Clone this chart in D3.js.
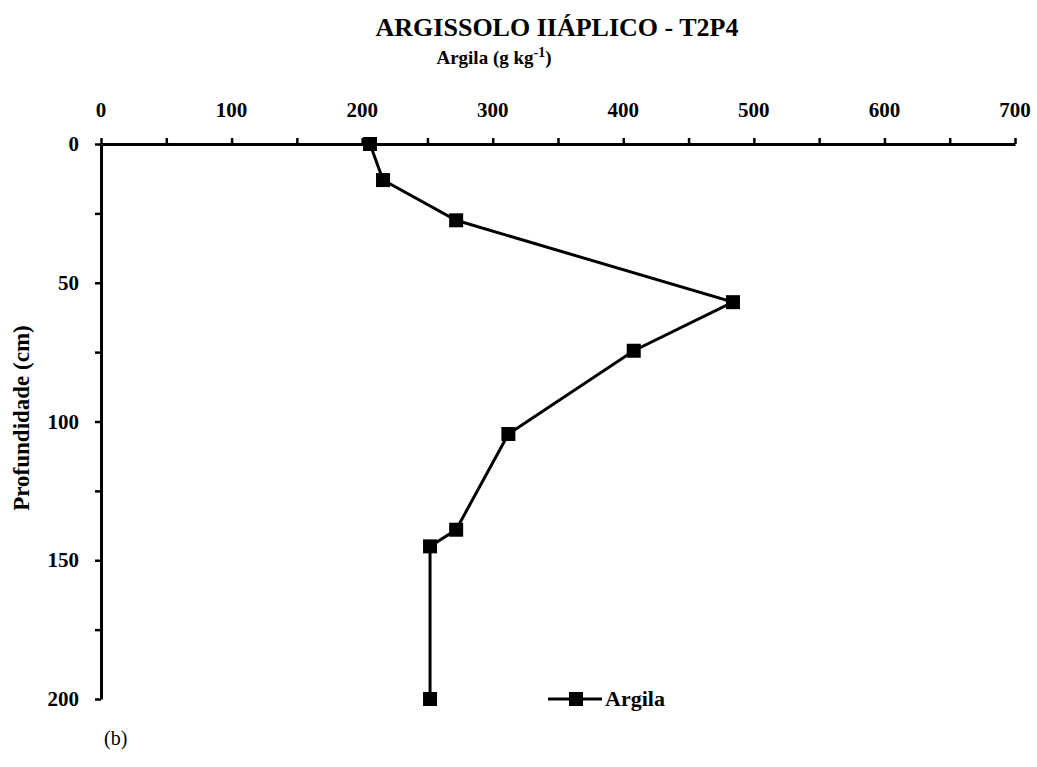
<!DOCTYPE html>
<html><head><meta charset="utf-8">
<script src="https://cdn.jsdelivr.net/npm/d3@7"></script>
<style>body{margin:0;background:#fff}svg{display:block}text{font-family:"Liberation Serif","Times New Roman",serif}</style>
</head><body><svg id="c" width="1037" height="767"></svg>
<script>
const argila = [206, 216, 272, 484, 408, 312, 272, 252, 252];
const depth = [0, 13, 27.5, 57, 74.5, 104.5, 139, 145, 200];
const xTicks = [0, 100, 200, 300, 400, 500, 600, 700];
const yTicks = [0, 50, 100, 150, 200];
const title = "ARGISSOLO IIÁPLICO - T2P4";
const seriesName = "Argila";

const svg = d3.select("#c");
const x = d3.scaleLinear().domain([0, 700]).range([101, 1015]);
const y = d3.scaleLinear().domain([0, 200]).range([144, 699]);

// x axis (top)
const xAx = svg.append("g").attr("transform", "translate(0,144)")
  .call(d3.axisTop(x).tickValues(d3.range(0, 701, 50)).tickSize(6).tickSizeOuter(0).tickFormat(""));
xAx.select(".domain").attr("stroke-width", 3);
xAx.selectAll(".tick line").attr("stroke-width", 2.5);
svg.append("g").selectAll("text").data(xTicks).join("text")
  .attr("x", d => x(d)).attr("y", 117).attr("text-anchor", "middle")
  .attr("font-size", 21).attr("font-weight", "bold").text(d => d);

// y axis
const yAx = svg.append("g").attr("transform", "translate(101,0)")
  .call(d3.axisLeft(y).tickValues(d3.range(0, 201, 25)).tickSize(6).tickSizeOuter(0).tickFormat(""));
yAx.select(".domain").attr("stroke-width", 3);
yAx.selectAll(".tick line").attr("stroke-width", 2.5);
svg.append("g").selectAll("text").data(yTicks).join("text")
  .attr("x", 79).attr("y", d => y(d) + 7).attr("text-anchor", "end")
  .attr("font-size", 21).attr("font-weight", "bold").text(d => d);

// titles
svg.append("text").attr("x", 557).attr("y", 36).attr("text-anchor", "middle")
  .attr("font-size", 26).attr("font-weight", "bold").text(title);
const sub = svg.append("text").attr("x", 494).attr("y", 64).attr("text-anchor", "middle")
  .attr("font-size", 19).attr("font-weight", "bold");
sub.append("tspan").text("Argila (g kg");
sub.append("tspan").attr("dy", -7).attr("font-size", 14).text("-1");
sub.append("tspan").attr("dy", 7).text(")");

svg.append("text").attr("transform", "translate(29,418) rotate(-90)")
  .attr("text-anchor", "middle").attr("font-size", 23).attr("font-weight", "bold")
  .text("Profundidade (cm)");

svg.append("text").attr("x", 104).attr("y", 745).attr("font-size", 20).text("(b)");

// series
const pts = argila.map((v, i) => [v, depth[i]]);
svg.append("path").datum(pts)
  .attr("d", d3.line().x(d => x(d[0])).y(d => y(d[1])))
  .attr("fill", "none").attr("stroke", "#000").attr("stroke-width", 3);
svg.append("g").selectAll("rect").data(pts).join("rect")
  .attr("x", d => x(d[0]) - 7).attr("y", d => y(d[1]) - 7)
  .attr("width", 14).attr("height", 14).attr("fill", "#000");

// legend
const lg = svg.append("g");
lg.append("line").attr("x1", 548).attr("x2", 602).attr("y1", 699).attr("y2", 699)
  .attr("stroke", "#000").attr("stroke-width", 3);
lg.append("rect").attr("x", 569).attr("y", 692).attr("width", 14).attr("height", 14).attr("fill", "#000");
lg.append("text").attr("x", 605).attr("y", 706).attr("font-size", 22).attr("font-weight", "bold").text(seriesName);
</script></body></html>
